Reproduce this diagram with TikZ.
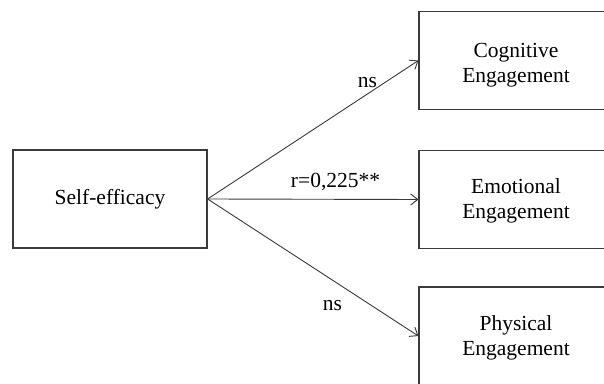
\documentclass[tikz,border=0pt]{standalone}
\usepackage{fontspec}
\setmainfont{Liberation Serif}
\usetikzlibrary{arrows.meta}
\definecolor{linegray}{HTML}{3A3A3A}
\tikzset{
  boxfont/.style={font=\fontsize{21.5}{25}\selectfont},
  box/.style={draw=linegray, line width=1.2pt, minimum width=194pt, minimum height=98pt,
    inner sep=0pt, align=center, boxfont},
  boxtext/.style={inner sep=0pt, align=center, boxfont},
  arr/.style={draw=linegray, line width=0.9pt, -{Straight Barb[length=7pt,width=11pt]}},
  lab/.style={inner sep=0pt, anchor=base, boxfont}
}
\begin{document}
\begin{tikzpicture}[x=1pt,y=1pt]
\useasboundingbox (0,0) rectangle (604,383);
\clip (0,0) rectangle (604,383);
\fill[white] (0,0) rectangle (604,383);
\node[box] (self) at (110,184) {Self-efficacy};
\node[box, label={[boxtext, yshift=-4.5pt]center:{Cognitive\\Engagement}}] (cog) at (516,322.5) {};
\node[box, label={[boxtext, yshift=-1.5pt]center:{Emotional\\Engagement}}] (emo) at (516,183.5) {};
\node[box, label={[boxtext, yshift=-2pt]center:{Physical\\Engagement}}] (phys) at (516,47) {};
\draw[arr] (self.east) -- (cog.west) node[lab, pos=0.758, yshift=7pt] {ns};
\draw[arr] (self.east) -- (emo.west) node[lab, pos=0.607, yshift=12pt] {r=0,225**};
\draw[arr] (self.east) -- (phys.west) node[lab, pos=0.592, yshift=-30pt] {ns};
\end{tikzpicture}
\end{document}
